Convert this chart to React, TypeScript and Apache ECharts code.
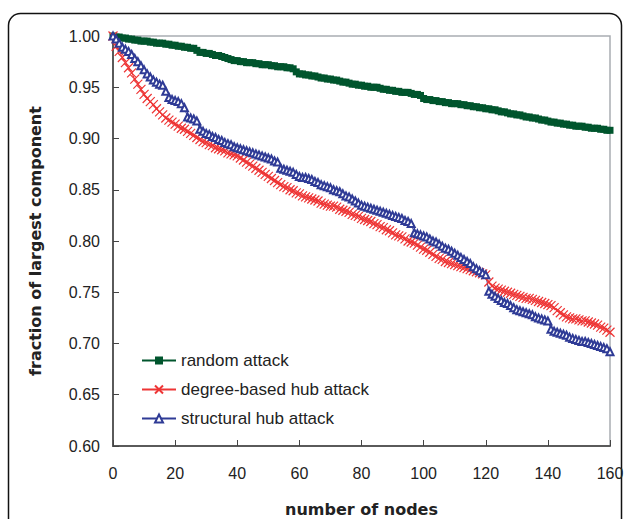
import React, { useEffect, useRef } from "react";
import * as echarts from "echarts";

const nodes: number[] = Array.from({ length: 161 }, (_, i) => i);

const randomAttack: number[] = [
  1.000, 0.999, 0.999, 0.998, 0.998, 0.997, 0.997, 0.996, 0.996, 0.995,
  0.995, 0.995, 0.994, 0.994, 0.993, 0.993, 0.993, 0.992, 0.992, 0.991,
  0.991, 0.990, 0.990, 0.989, 0.989, 0.988, 0.988, 0.986, 0.984, 0.984,
  0.983, 0.983, 0.982, 0.981, 0.981, 0.980, 0.979, 0.978, 0.977, 0.976,
  0.976, 0.975, 0.975, 0.974, 0.974, 0.974, 0.973, 0.973, 0.972, 0.972,
  0.972, 0.971, 0.971, 0.970, 0.970, 0.970, 0.969, 0.969, 0.968, 0.965,
  0.963, 0.963, 0.962, 0.962, 0.961, 0.961, 0.960, 0.959, 0.959, 0.958,
  0.958, 0.957, 0.957, 0.956, 0.955, 0.955, 0.954, 0.953, 0.953, 0.952,
  0.952, 0.951, 0.951, 0.950, 0.950, 0.950, 0.949, 0.948, 0.948, 0.947,
  0.947, 0.946, 0.946, 0.945, 0.945, 0.945, 0.944, 0.943, 0.943, 0.942,
  0.939, 0.938, 0.938, 0.937, 0.937, 0.936, 0.936, 0.935, 0.935, 0.934,
  0.934, 0.934, 0.933, 0.933, 0.932, 0.932, 0.931, 0.931, 0.930, 0.930,
  0.929, 0.929, 0.928, 0.928, 0.927, 0.926, 0.926, 0.925, 0.924, 0.924,
  0.923, 0.923, 0.922, 0.921, 0.921, 0.920, 0.920, 0.919, 0.918, 0.918,
  0.917, 0.916, 0.916, 0.915, 0.915, 0.914, 0.914, 0.913, 0.913, 0.912,
  0.912, 0.912, 0.911, 0.911, 0.910, 0.910, 0.910, 0.909, 0.909, 0.908,
  0.908,
];

const degreeHubAttack: number[] = [
  1.000, 0.990, 0.985, 0.979, 0.974, 0.969, 0.964, 0.958, 0.953, 0.948,
  0.943, 0.939, 0.936, 0.933, 0.929, 0.926, 0.923, 0.920, 0.918, 0.916,
  0.914, 0.912, 0.910, 0.909, 0.907, 0.905, 0.903, 0.901, 0.899, 0.897,
  0.896, 0.894, 0.893, 0.891, 0.890, 0.889, 0.888, 0.886, 0.885, 0.884,
  0.883, 0.881, 0.879, 0.877, 0.875, 0.873, 0.871, 0.869, 0.867, 0.865,
  0.863, 0.861, 0.859, 0.857, 0.855, 0.853, 0.852, 0.850, 0.849, 0.847,
  0.846, 0.844, 0.843, 0.842, 0.841, 0.840, 0.839, 0.837, 0.836, 0.835,
  0.834, 0.834, 0.833, 0.831, 0.830, 0.829, 0.828, 0.826, 0.825, 0.824,
  0.822, 0.821, 0.820, 0.819, 0.817, 0.816, 0.814, 0.813, 0.811, 0.810,
  0.808, 0.806, 0.805, 0.804, 0.802, 0.800, 0.799, 0.798, 0.796, 0.794,
  0.792, 0.791, 0.789, 0.787, 0.785, 0.783, 0.782, 0.780, 0.779, 0.778,
  0.777, 0.776, 0.775, 0.774, 0.773, 0.772, 0.771, 0.770, 0.769, 0.768,
  0.767, 0.760, 0.756, 0.754, 0.753, 0.752, 0.751, 0.750, 0.749, 0.748,
  0.747, 0.746, 0.745, 0.744, 0.744, 0.743, 0.742, 0.741, 0.740, 0.739,
  0.738, 0.737, 0.735, 0.732, 0.730, 0.728, 0.726, 0.725, 0.724, 0.724,
  0.723, 0.722, 0.722, 0.721, 0.720, 0.719, 0.718, 0.716, 0.715, 0.713,
  0.711,
];

const structuralHubAttack: number[] = [
  1.000, 0.997, 0.993, 0.989, 0.987, 0.985, 0.982, 0.978, 0.975, 0.971,
  0.967, 0.963, 0.960, 0.957, 0.955, 0.953, 0.952, 0.946, 0.940, 0.938,
  0.937, 0.936, 0.934, 0.930, 0.921, 0.920, 0.919, 0.917, 0.909, 0.907,
  0.905, 0.904, 0.902, 0.901, 0.899, 0.898, 0.896, 0.895, 0.894, 0.892,
  0.891, 0.890, 0.889, 0.888, 0.887, 0.886, 0.885, 0.884, 0.883, 0.882,
  0.881, 0.880, 0.878, 0.877, 0.871, 0.870, 0.869, 0.868, 0.867, 0.865,
  0.863, 0.862, 0.862, 0.861, 0.860, 0.858, 0.857, 0.855, 0.854, 0.853,
  0.852, 0.850, 0.849, 0.848, 0.846, 0.844, 0.843, 0.841, 0.839, 0.837,
  0.835, 0.834, 0.833, 0.832, 0.831, 0.830, 0.829, 0.828, 0.827, 0.826,
  0.825, 0.824, 0.823, 0.822, 0.820, 0.819, 0.817, 0.808, 0.807, 0.806,
  0.805, 0.804, 0.802, 0.800, 0.799, 0.797, 0.795, 0.793, 0.792, 0.790,
  0.788, 0.786, 0.784, 0.782, 0.780, 0.778, 0.775, 0.773, 0.771, 0.769,
  0.767, 0.751, 0.748, 0.746, 0.744, 0.742, 0.740, 0.739, 0.737, 0.735,
  0.733, 0.732, 0.731, 0.730, 0.729, 0.728, 0.726, 0.725, 0.724, 0.723,
  0.722, 0.714, 0.712, 0.711, 0.710, 0.709, 0.708, 0.706, 0.705, 0.704,
  0.703, 0.702, 0.702, 0.701, 0.700, 0.699, 0.698, 0.697, 0.696, 0.695,
  0.692,
];

const seriesNames = ["random attack", "degree-based hub attack", "structural hub attack"];
const xTitle = "number of nodes";
const yTitle = "fraction of largest component";

export default function App() {
  const ref = useRef<HTMLDivElement>(null);
  useEffect(() => {
    const chart = echarts.init(ref.current!, null, { renderer: "svg" });
    const pairs = (arr: number[]) => arr.map((v, i) => [nodes[i], v]);
    const textColor = "#222";
    chart.setOption({
      animation: false,
      backgroundColor: "#fff",
      textStyle: { fontFamily: "'Liberation Sans', Arial, sans-serif" },
      graphic: [
        {
          type: "rect",
          silent: true,
          z: -10,
          shape: { x: 8.5, y: 13.5, width: 613, height: 560, r: 12 },
          style: { fill: "none", stroke: "#111", lineWidth: 1.5 },
        },
      ],
      grid: {
        left: 113,
        right: 19,
        top: 36,
        bottom: 73,
        show: true,
        borderColor: "#a9adb2",
        borderWidth: 1.5,
        containLabel: false,
        outerBoundsMode: "none",
      },
      legend: {
        orient: "vertical",
        left: 136,
        top: 347,
        itemWidth: 34,
        itemHeight: 10,
        itemGap: 12,
        textStyle: { fontSize: 17, color: textColor },
        data: seriesNames,
      },
      xAxis: {
        type: "value",
        min: 0,
        max: 160,
        interval: 20,
        name: xTitle,
        nameLocation: "middle",
        nameGap: 55,
        nameTextStyle: {
          fontFamily: "'DejaVu Sans', sans-serif",
          fontWeight: "bold",
          fontSize: 16,
          color: textColor,
        },
        axisLine: { show: true, onZero: false, lineStyle: { color: "#5a5a5a", width: 2 } },
        axisTick: { show: true, inside: true, length: 6, lineStyle: { color: "#444", width: 1 } },
        axisLabel: { color: textColor, fontSize: 16, margin: 19 },
        splitLine: { show: false },
      },
      yAxis: {
        type: "value",
        min: 0.6,
        max: 1.0,
        interval: 0.05,
        name: yTitle,
        nameLocation: "middle",
        nameGap: 70,
        nameTextStyle: {
          fontFamily: "'DejaVu Sans', sans-serif",
          fontWeight: "bold",
          fontSize: 16,
          color: textColor,
        },
        axisLine: { show: true, onZero: false, lineStyle: { color: "#5a5a5a", width: 2 } },
        axisTick: { show: true, inside: true, length: 6, lineStyle: { color: "#444", width: 1 } },
        axisLabel: {
          color: textColor,
          fontSize: 16,
          margin: 13,
          formatter: (v: number) => v.toFixed(2),
        },
        splitLine: { show: false },
      },
      series: [
        {
          name: seriesNames[0],
          type: "line",
          data: pairs(randomAttack),
          symbol: "rect",
          symbolSize: 7,
          color: "#00552d",
          lineStyle: { width: 1.5, color: "#00552d" },
          itemStyle: { color: "#00552d" },
        },
        {
          name: seriesNames[1],
          type: "line",
          data: pairs(degreeHubAttack),
          symbol: "path://M0,0L10,10M10,0L0,10",
          symbolSize: 9,
          color: "#ee3535",
          lineStyle: { width: 1, color: "#ee3535" },
          itemStyle: { color: "#ee3535", borderColor: "#ee3535", borderWidth: 1.2 },
        },
        {
          name: seriesNames[2],
          type: "line",
          data: pairs(structuralHubAttack),
          symbol: "emptyTriangle",
          symbolSize: 7,
          color: "#2f3b96",
          lineStyle: { width: 1, color: "#2f3b96" },
          itemStyle: { color: "#2f3b96", borderColor: "#2f3b96", borderWidth: 1.2 },
        },
      ],
    });
    return () => chart.dispose();
  }, []);
  return (
    <div
      ref={ref}
      style={{ position: "fixed", left: 0, top: 0, width: 629, height: 519, background: "#fff" }}
    />
  );
}
